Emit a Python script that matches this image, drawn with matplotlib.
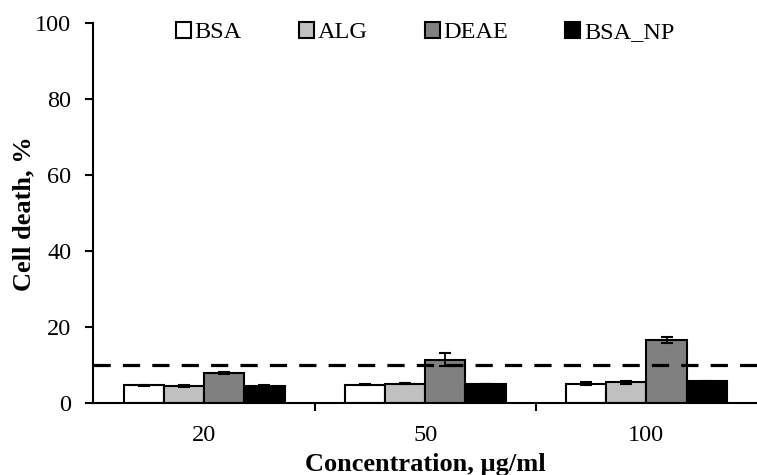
import matplotlib
matplotlib.use("Agg")
import matplotlib.pyplot as plt
import numpy as np

plt.rcParams['font.family'] = ['Liberation Serif', 'DejaVu Serif']

concentrations = ["20", "50", "100"]
series_names = ["BSA", "ALG", "DEAE", "BSA_NP"]
bsa = [4.7, 4.9, 5.2]
alg = [4.6, 5.2, 5.5]
deae = [8.0, 11.5, 16.6]
bsa_np = [4.6, 5.1, 5.8]
bsa_err = [0.2, 0.2, 0.3]
alg_err = [0.2, 0.2, 0.3]
deae_err = [0.3, 1.8, 0.8]
bsa_np_err = [0.1, 0.1, 0.1]
threshold = 10

values = [bsa, alg, deae, bsa_np]
errors = [bsa_err, alg_err, deae_err, bsa_np_err]
colors = ["white", "#c0c0c0", "#808080", "black"]

fig = plt.figure(figsize=(7.57, 4.75), dpi=100)
ax = fig.add_axes([0.1235, 0.151, 0.8765, 0.800])

x = np.arange(len(concentrations))
width = 0.182
for i, (vals, errs, col, name) in enumerate(zip(values, errors, colors, series_names)):
    pos = x + (i - 1.5) * width
    ax.bar(pos, vals, width, color=col, edgecolor="black", linewidth=1.5,
           label=name, zorder=2)
    ax.errorbar(pos, vals, yerr=errs, fmt="none", ecolor="black",
                elinewidth=1.3, capsize=4.3, capthick=1.5, zorder=3)

ax.axhline(threshold, color="black", linewidth=2.3,
           linestyle=(0, (5.4, 3.8)), zorder=4)

ax.set_xlim(-0.5, 2.5)
ax.set_ylim(0, 100)
ax.set_yticks(np.arange(0, 101, 20))
ax.set_xticks(x)
ax.set_xticklabels(concentrations)
ax.set_xticks([0.5, 1.5], minor=True)
ax.tick_params(axis="x", which="major", length=0, pad=16, labelsize=17.5)
ax.tick_params(axis="x", which="minor", length=6, width=1.5, direction="out")
ax.tick_params(axis="y", length=6, width=1.5, direction="out", labelsize=17.5, pad=10)

for side in ["top", "right"]:
    ax.spines[side].set_visible(False)
for side in ["left", "bottom"]:
    ax.spines[side].set_linewidth(1.5)

ax.set_ylabel("Cell death, %", fontsize=19, fontweight="bold")
ax.yaxis.set_label_coords(-0.088, 0.5)
ax.set_xlabel("Concentration, µg/ml", fontsize=19, fontweight="bold")
ax.xaxis.set_label_coords(0.5, -0.13)

leg = ax.legend(loc="center", bbox_to_anchor=(0.5, 0.975), ncol=4,
                frameon=False, fontsize=17.5, handlelength=0.62, handleheight=0.62,
                handletextpad=0.15, columnspacing=2.35, borderaxespad=0,
                borderpad=0)
for h in leg.legend_handles:
    h.set_linewidth(1.5)

fig.savefig("out.png", dpi=100)
